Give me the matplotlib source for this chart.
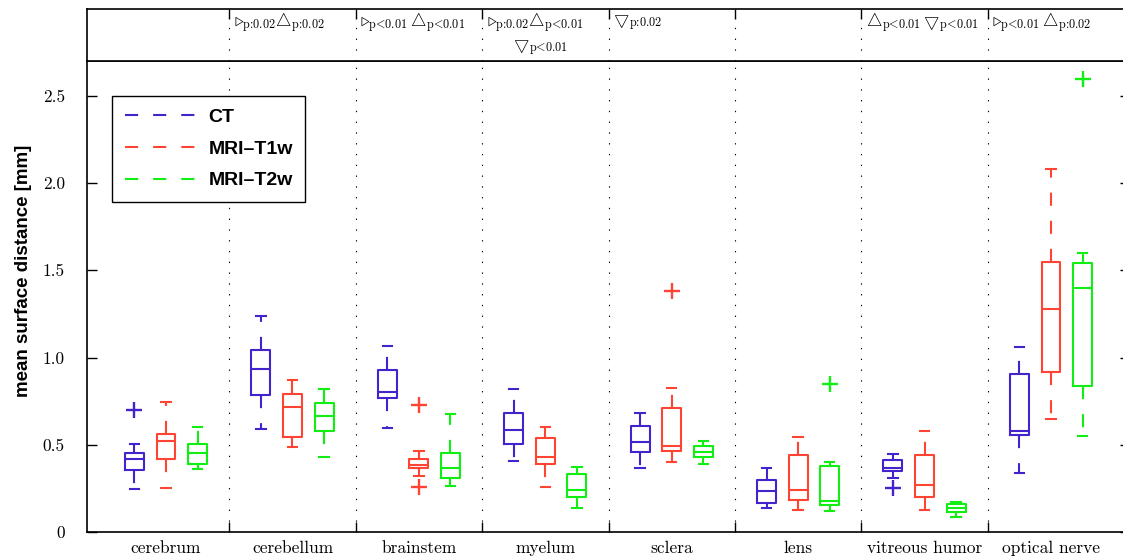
import matplotlib
matplotlib.use("Agg")
import matplotlib.pyplot as plt
from matplotlib.lines import Line2D

plt.rcParams["mathtext.fontset"] = "cm"

regions = ["cerebrum", "cerebellum", "brainstem", "myelum", "sclera",
           "lens", "vitreous humor", "optical nerve"]
modalities = ["CT", "MRI\u2013T1w", "MRI\u2013T2w"]
colors = ["#4422cc", "#ff4433", "#11ee11"]

# box statistics per region: lower whisker, q1, median, q3, upper whisker, outliers
ct_lo = [0.247, 0.591, 0.598, 0.405, 0.369, 0.139, 0.312, 0.336]
ct_q1 = [0.355, 0.786, 0.770, 0.505, 0.460, 0.166, 0.350, 0.556]
ct_med = [0.419, 0.933, 0.801, 0.587, 0.516, 0.237, 0.367, 0.579]
ct_q3 = [0.455, 1.044, 0.927, 0.684, 0.610, 0.300, 0.415, 0.904]
ct_hi = [0.503, 1.240, 1.067, 0.822, 0.680, 0.367, 0.445, 1.063]
ct_out = [[0.70], [], [], [], [], [], [0.25], []]

t1_lo = [0.250, 0.487, 0.321, 0.260, 0.403, 0.124, 0.124, 0.650]
t1_q1 = [0.417, 0.545, 0.365, 0.390, 0.466, 0.182, 0.203, 0.916]
t1_med = [0.522, 0.719, 0.386, 0.428, 0.495, 0.243, 0.268, 1.277]
t1_q3 = [0.562, 0.790, 0.419, 0.541, 0.711, 0.441, 0.441, 1.550]
t1_hi = [0.747, 0.870, 0.464, 0.600, 0.824, 0.543, 0.577, 2.083]
t1_out = [[], [], [0.728, 0.256], [], [1.384], [], [], []]

t2_lo = [0.361, 0.430, 0.266, 0.138, 0.388, 0.119, 0.086, 0.552]
t2_q1 = [0.390, 0.579, 0.308, 0.201, 0.430, 0.155, 0.115, 0.839]
t2_med = [0.451, 0.667, 0.367, 0.241, 0.459, 0.178, 0.136, 1.399]
t2_q3 = [0.503, 0.742, 0.455, 0.333, 0.493, 0.378, 0.159, 1.541]
t2_hi = [0.604, 0.822, 0.675, 0.373, 0.520, 0.401, 0.170, 1.602]
t2_out = [[], [], [], [], [], [0.849], [], [2.596]]

# significance markers written above each region (second line only for myelum)
RT = r"{\triangleright}"
UP = r"{\bigtriangleup}"
DN = r"{\bigtriangledown}"
sig_line1 = ["",
             "$" + RT + r"_{\text{p:0.02}}" + UP + r"_{\text{p:0.02}}$",
             "$" + RT + r"_{\text{p<0.01}}\," + UP + r"_{\text{p<0.01}}$",
             "$" + RT + r"_{\text{p:0.02}}" + UP + r"_{\text{p<0.01}}$",
             "$" + DN + r"_{\text{p:0.02}}$",
             "",
             "$" + UP + r"_{\text{p<0.01}}\," + DN + r"_{\text{p<0.01}}$",
             "$" + RT + r"_{\text{p<0.01}}\," + UP + r"_{\text{p:0.02}}$"]
sig_line2 = ["", "", "", "$" + DN + r"_{\text{p<0.01}}$", "", "", "", ""]

yticks = [0, 0.5, 1.0, 1.5, 2.0, 2.5]
ytick_labels = ["0", "0.5", "1.0", "1.5", "2.0", "2.5"]

series = [
    (ct_lo, ct_q1, ct_med, ct_q3, ct_hi, ct_out),
    (t1_lo, t1_q1, t1_med, t1_q3, t1_hi, t1_out),
    (t2_lo, t2_q1, t2_med, t2_q3, t2_hi, t2_out),
]
offsets = [-0.25, 0.0, 0.25]
dash = (0, (6.3, 7.2))

fig = plt.figure(figsize=(11.23, 5.59), dpi=100)
W, H = 1123.0, 559.0
ax = fig.add_axes([87 / W, (H - 532) / H, 1043 / W, 471 / H])
axh = fig.add_axes([87 / W, (H - 61) / H, 1043 / W, 52.3 / H])

xlim = (0.375, 8.625)
seps = [i + 1.5 for i in range(len(regions) - 1)]

for (lo, q1, med, q3, hi, out), off, col in zip(series, offsets, colors):
    stats = []
    for k in range(len(regions)):
        stats.append({"whislo": lo[k], "q1": q1[k], "med": med[k],
                      "q3": q3[k], "whishi": hi[k], "fliers": out[k]})
    pos = [k + 1 + off for k in range(len(regions))]
    ax.bxp(stats, positions=pos, widths=0.15, capwidths=0.075,
           showfliers=True, manage_ticks=False,
           boxprops=dict(color=col, lw=1.5),
           medianprops=dict(color=col, lw=1.5),
           whiskerprops=dict(color=col, lw=1.5, linestyle=dash),
           capprops=dict(color=col, lw=1.5),
           flierprops=dict(marker="+", markeredgecolor=col,
                           markersize=11, markeredgewidth=1.7))

for s in seps:
    for a in (ax, axh):
        a.axvline(s, color="black", lw=0.8, linestyle=(0, (1.2, 8.5)), zorder=0)

ax.set_xlim(*xlim)
ax.set_ylim(0, 2.7)
ax.set_xticks(seps)
ax.set_xticklabels([])
ax.set_xticks(range(1, len(regions) + 1), minor=True)
ax.set_xticklabels(regions, minor=True)
ax.tick_params(axis="x", which="major", direction="in", length=7, width=1,
               top=False)
ax.tick_params(axis="x", which="minor", length=0, pad=6, labelsize=12.5,
               labelfontfamily="cmr10")
ax.set_yticks(yticks)
ax.set_yticklabels(ytick_labels)
ax.tick_params(axis="y", direction="in", length=7, width=1, left=True,
               right=True, pad=16, labelsize=12.5, labelfontfamily="cmr10")
for sp in ax.spines.values():
    sp.set_linewidth(1.2)

ax.set_ylabel("mean surface distance [mm]", fontsize=13.5, fontweight="bold",
              fontfamily="Liberation Sans")
ax.yaxis.set_label_coords(-0.053, 0.554)

handles = [Line2D([], [], color=c, lw=1.5, linestyle=dash) for c in colors]
leg = ax.legend(handles, modalities, loc="upper left",
                bbox_to_anchor=(0.024, 0.926), borderaxespad=0,
                fancybox=False, edgecolor="black", framealpha=1,
                handlelength=3.6, handletextpad=0.7, labelspacing=0.72,
                borderpad=0.65,
                prop=dict(family="Liberation Sans", weight="bold", size=14))
leg.get_frame().set_linewidth(1.0)

axh.set_xlim(*xlim)
axh.set_ylim(0, 1)
axh.set_xticks(seps)
axh.set_xticklabels([])
axh.set_yticks([])
axh.tick_params(axis="x", direction="in", length=7, width=1, top=True,
                bottom=False, labeltop=False, labelbottom=False)
for sp in axh.spines.values():
    sp.set_linewidth(1.2)

for k in range(len(regions)):
    if sig_line1[k]:
        axh.text(k + 0.5 + 0.035, 0.72, sig_line1[k], ha="left",
                 va="center", fontsize=12.5)
    if sig_line2[k]:
        axh.text(k + 0.96, 0.25, sig_line2[k], ha="center", va="center",
                 fontsize=12.5)

fig.savefig("out.png", dpi=100)
